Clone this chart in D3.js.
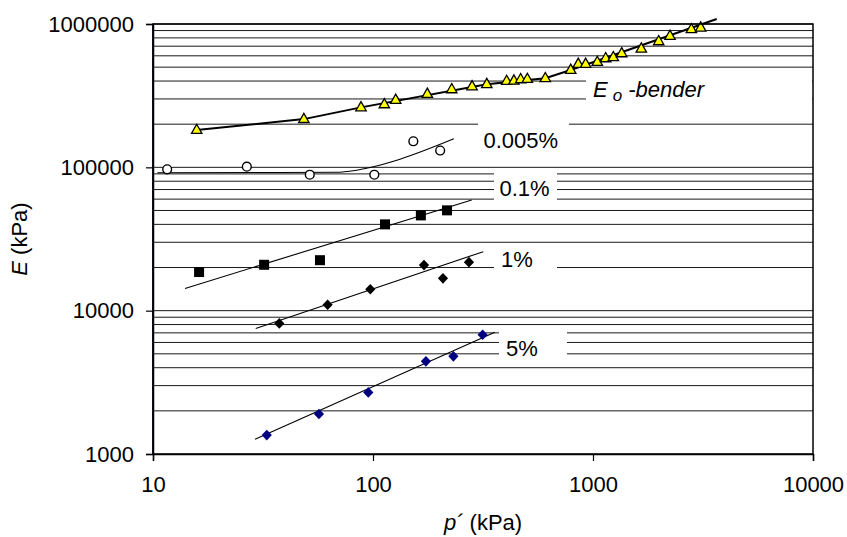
<!DOCTYPE html>
<html><head><meta charset="utf-8">
<script src="https://cdn.jsdelivr.net/npm/d3@7"></script>
<style>
html,body{margin:0;padding:0;background:#fff;}
svg{display:block;font-family:"Liberation Sans",Arial,sans-serif;}
</style></head>
<body><svg id="c" width="847" height="537"></svg>
<script>
// ---------- DATA ----------
const xTicks = [10, 100, 1000, 10000];
const yTicks = [1000, 10000, 100000, 1000000];
const xTickLabels = ["10", "100", "1000", "10000"];
const yTickLabels = ["1000", "10000", "100000", "1000000"];

// E0 bender (yellow triangles)
const benderP = [15.8, 48.5, 88.2, 112.6, 126.8, 176.6, 228, 282, 329, 405, 437, 469, 503, 607, 792, 857, 926, 1046, 1142, 1237, 1351, 1658, 1989, 2239, 2800, 3087];
const benderE = [182000, 217000, 262000, 275000, 295000, 325000, 350000, 367000, 380000, 400000, 402000, 411000, 413000, 418000, 478000, 526000, 526000, 543000, 576000, 586000, 624000, 672000, 757000, 825000, 919000, 942000];
const benderLineP = [15.8, 48.5, 88.2, 329, 607, 792, 3650];
const benderLineE = [182000, 217000, 262000, 380000, 418000, 478000, 1083000];

// 0.005 % (open circles)
const s0005P = [11.6, 26.7, 51.6, 101.4, 152.5, 202];
const s0005E = [96900, 101000, 88800, 88800, 152000, 131000];
const s0005LineP = [10.46, 67.9, 82.8, 96.9, 132.7, 233];
const s0005LineE = [91700, 92300, 95000, 99700, 114000, 158000];

// 0.1 % (black squares)
const s01P = [16.2, 32.0, 57.4, 113.4, 165, 217];
const s01E = [18600, 20900, 22500, 40000, 46200, 50100];
const s01LineP = [13.98, 281];
const s01LineE = [14300, 59100];

// 1 % (black diamonds)
const s1P = [37.5, 62.2, 97.2, 170.5, 208, 273];
const s1E = [8150, 11000, 14100, 20800, 16800, 21800];
const s1LineP = [29.3, 317];
const s1LineE = [7520, 25800];

// 5 % (blue diamonds)
const s5P = [32.9, 56.8, 95.2, 174, 232, 315];
const s5E = [1355, 1900, 2690, 4430, 4800, 6790];
const s5LineP = [29.1, 358];
const s5LineE = [1265, 7060];

const seriesLabels = ["0.005%", "0.1%", "1%", "5%"];

// ---------- LAYOUT ----------
const svg = d3.select("#c");
const L = 153, R = 813, T = 24, B = 454;
const x = d3.scaleLog().domain([10, 10000]).range([L, R]);
const y = d3.scaleLog().domain([1000, 1000000]).range([B, T]);
const FS = 22;

// gridlines at every 1..9 x decade
const gridVals = [];
for (let k = 3; k <= 5; k++) for (let m = 1; m <= 9; m++) gridVals.push(m * Math.pow(10, k));
gridVals.push(1000000);
svg.append("g").selectAll("line").data(gridVals.filter(v => v > 1000)).join("line")
  .attr("x1", L).attr("x2", R)
  .attr("y1", d => y(d)).attr("y2", d => y(d))
  .attr("stroke", "#1a1a1a").attr("stroke-width", 1);

// white label boxes hiding gridlines
const boxes = [
  {x0: 586, x1: R - 1, y0: 71, y1: 118},
  {x0: 478, x1: 569, y0: 116, y1: 160},
  {x0: 494, x1: 557, y0: 170, y1: 205},
  {x0: 494, x1: 557, y0: 250, y1: 288},
  {x0: 499, x1: 567, y0: 328, y1: 362}
];
svg.append("g").selectAll("rect").data(boxes).join("rect")
  .attr("x", d => d.x0).attr("y", d => d.y0)
  .attr("width", d => d.x1 - d.x0).attr("height", d => d.y1 - d.y0)
  .attr("fill", "#fff");

// fit lines
const zip = (a, b) => a.map((v, i) => [v, b[i]]);
const lineGen = d3.line().x(d => x(d[0])).y(d => y(d[1]));
const smoothGen = d3.line().x(d => x(d[0])).y(d => y(d[1])).curve(d3.curveMonotoneX);
svg.append("path").attr("d", lineGen(zip(benderLineP, benderLineE)))
  .attr("fill", "none").attr("stroke", "#000").attr("stroke-width", 2);
svg.append("path").attr("d", smoothGen(zip(s0005LineP, s0005LineE)))
  .attr("fill", "none").attr("stroke", "#000").attr("stroke-width", 1.1);
[[s01LineP, s01LineE], [s1LineP, s1LineE], [s5LineP, s5LineE]].forEach(([p, e]) => {
  svg.append("path").attr("d", lineGen(zip(p, e)))
    .attr("fill", "none").attr("stroke", "#000").attr("stroke-width", 1.1);
});

// markers
const tri = "M0,-5.8L5.2,3.4L-5.2,3.4Z";
const dia = "M0,-5.3L5.1,0L0,5.3L-5.1,0Z";
svg.append("g").selectAll("path").data(zip(benderP, benderE)).join("path")
  .attr("d", tri).attr("transform", d => `translate(${x(d[0])},${y(d[1])})`)
  .attr("fill", "#ffff00").attr("stroke", "#000").attr("stroke-width", 1.3);
svg.append("g").selectAll("circle").data(zip(s0005P, s0005E)).join("circle")
  .attr("cx", d => x(d[0])).attr("cy", d => y(d[1])).attr("r", 4.4)
  .attr("fill", "#fff").attr("stroke", "#000").attr("stroke-width", 1.4);
svg.append("g").selectAll("rect").data(zip(s01P, s01E)).join("rect")
  .attr("x", d => x(d[0]) - 5).attr("y", d => y(d[1]) - 5).attr("width", 10).attr("height", 10)
  .attr("fill", "#000");
svg.append("g").selectAll("path").data(zip(s1P, s1E)).join("path")
  .attr("d", dia).attr("transform", d => `translate(${x(d[0])},${y(d[1])})`)
  .attr("fill", "#000");
svg.append("g").selectAll("path").data(zip(s5P, s5E)).join("path")
  .attr("d", dia).attr("transform", d => `translate(${x(d[0])},${y(d[1])})`)
  .attr("fill", "#000080");

// series labels
const lblPos = [[483.5, 148], [499.5, 195.5], [501, 267], [506, 355.5]];
svg.append("g").selectAll("text").data(seriesLabels).join("text")
  .attr("x", (d, i) => lblPos[i][0]).attr("y", (d, i) => lblPos[i][1])
  .attr("font-size", FS).attr("fill", "#000").text(d => d);
const eb = svg.append("text").attr("x", 593).attr("y", 97).attr("font-size", FS).attr("font-style", "italic");
eb.append("tspan").text("E");
eb.append("tspan").attr("dy", 4).attr("dx", 5).attr("font-size", 17).text("o");
eb.append("tspan").attr("dy", -4).attr("dx", 0).text(" -bender");

// plot frame
svg.append("rect").attr("x", L).attr("y", T).attr("width", R - L).attr("height", B - T)
  .attr("fill", "none").attr("stroke", "#000").attr("stroke-width", 1.5);
svg.append("line").attr("x1", L).attr("x2", L).attr("y1", T).attr("y2", B)
  .attr("stroke", "#111122").attr("stroke-width", 2);

// axes
const xAxis = d3.axisBottom(x).tickValues(xTicks).tickFormat((d, i) => xTickLabels[i]).tickSize(7).tickPadding(15);
const gx = svg.append("g").attr("transform", `translate(0,${B})`).call(xAxis);
const yAxis = d3.axisLeft(y).tickValues(yTicks).tickFormat((d, i) => yTickLabels[i]).tickSize(7).tickPadding(12);
const gy = svg.append("g").attr("transform", `translate(${L},0)`).call(yAxis);
[gx, gy].forEach(g => {
  g.select(".domain").attr("stroke", "#000").attr("stroke-width", 1.5);
  g.selectAll(".tick line").attr("stroke", "#000").attr("stroke-width", 1.2);
  g.selectAll(".tick text").attr("font-size", FS).attr("font-family", "Liberation Sans, Arial, sans-serif").attr("fill", "#000");
});

// axis titles
const xt = svg.append("text").attr("x", (L + R) / 2).attr("y", 530).attr("text-anchor", "middle").attr("font-size", FS);
xt.append("tspan").attr("font-style", "italic").text("p´");
xt.append("tspan").text(" (kPa)");
const yt = svg.append("text").attr("transform", `translate(27,${(T + B) / 2}) rotate(-90)`).attr("text-anchor", "middle").attr("font-size", FS);
yt.append("tspan").attr("font-style", "italic").text("E");
yt.append("tspan").text(" (kPa)");
</script></body></html>
